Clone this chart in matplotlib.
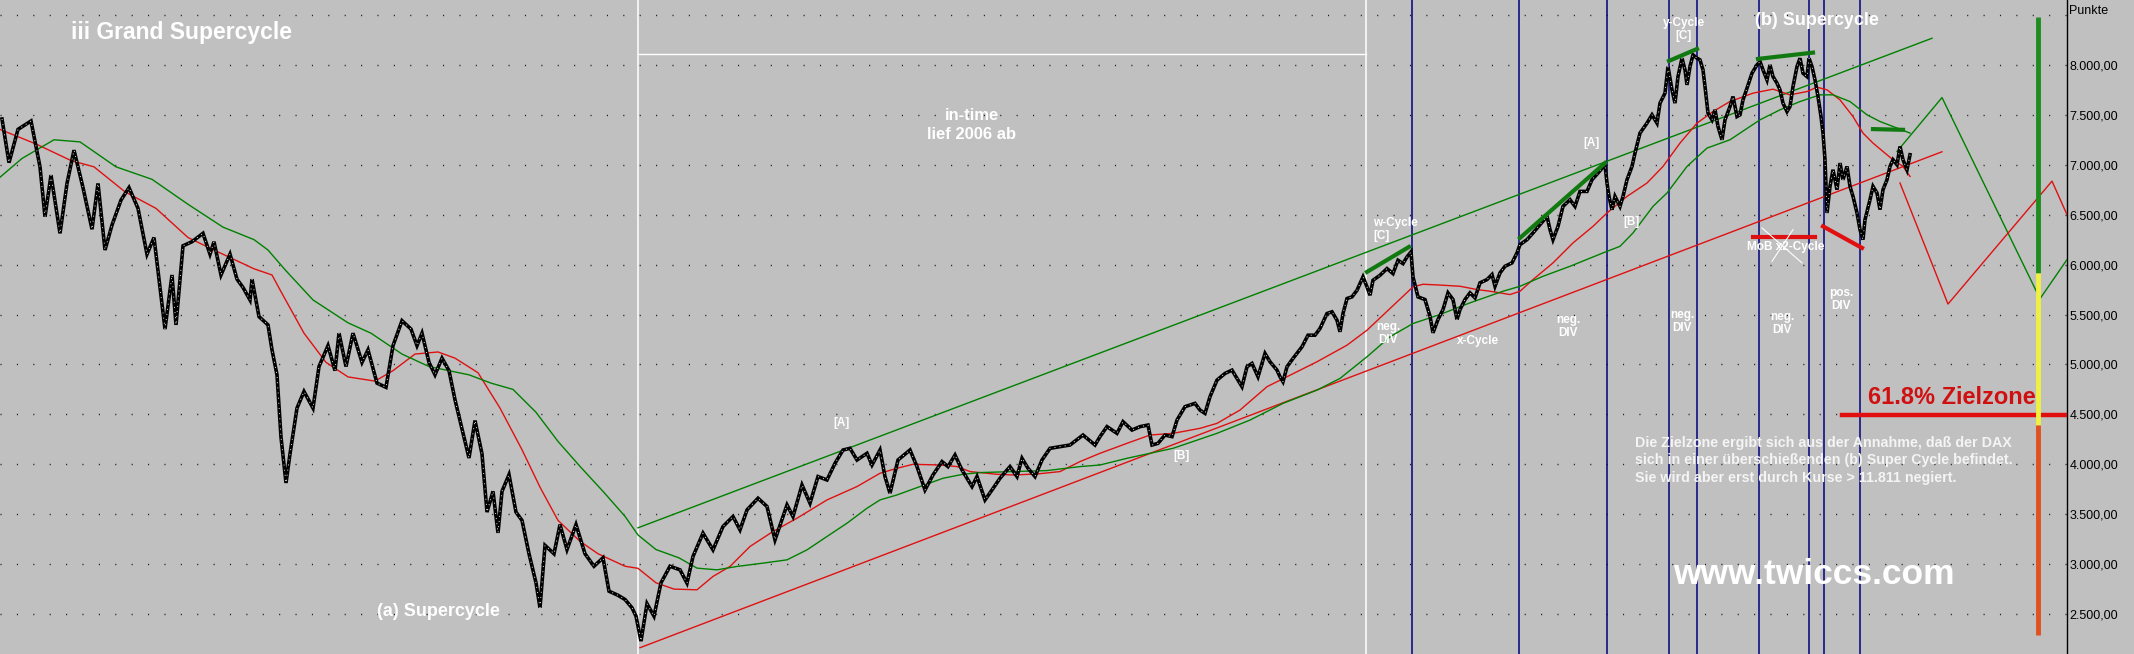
import matplotlib
matplotlib.use("Agg")
import matplotlib.pyplot as plt
import numpy as np

plt.rcParams["font.family"] = ["Liberation Sans", "DejaVu Sans"]

# ==========================================================
#               DATEN (abgelesen aus dem Chart)
# ==========================================================
# x = Bar-Position (Zeitachse ohne Beschriftung), y = Punkte
price_pts = [
    (2, 7458), (9, 7021), (18, 7354), (31, 7438), (40, 6979), (45, 6479), (51, 6896), (60, 6313),
    (67, 6813), (74, 7146), (83, 6771), (92, 6354), (98, 6813), (105, 6146), (112, 6396), (121, 6646),
    (129, 6771), (138, 6563), (147, 6104), (154, 6271), (158, 5938), (165, 5354), (172, 5896), (176, 5396),
    (183, 6188), (192, 6229), (203, 6313), (210, 6104), (214, 6229), (221, 5896), (230, 6104), (237, 5854),
    (243, 5771), (250, 5646), (252, 5854), (259, 5479), (268, 5396), (272, 5146), (277, 4896), (281, 4271),
    (286, 3813), (290, 4104), (297, 4563), (304, 4729), (313, 4563), (319, 4979), (328, 5188), (335, 4938),
    (339, 5313), (346, 4979), (353, 5313), (362, 5021), (368, 5146), (377, 4813), (386, 4771), (393, 5188),
    (402, 5438), (411, 5354), (417, 5188), (422, 5313), (429, 5021), (435, 4896), (442, 5063), (449, 4938),
    (455, 4646), (462, 4354), (469, 4063), (475, 4438), (482, 4104), (487, 3521), (493, 3729), (498, 3313),
    (502, 3729), (509, 3896), (516, 3521), (522, 3438), (529, 3104), (536, 2813), (540, 2563), (545, 3188),
    (554, 3104), (560, 3396), (567, 3146), (576, 3396), (585, 3104), (594, 2979), (603, 3063), (609, 2729),
    (618, 2688), (625, 2646), (632, 2563), (636, 2479), (641, 2229), (647, 2604), (654, 2479), (661, 2813),
    (670, 2979),
    (680, 2943), (687, 2810), (693, 3077), (703, 3310), (713, 3143), (723, 3377), (733, 3477), (740, 3343),
    (747, 3543), (758, 3660), (767, 3577), (775, 3243), (787, 3593), (793, 3477), (802, 3793), (810, 3610),
    (818, 3877), (827, 3843), (835, 4010), (843, 4143), (850, 4160), (857, 4043), (867, 4110), (872, 3993),
    (880, 4143), (885, 3877), (890, 3710), (898, 4043), (910, 4143), (917, 3977), (925, 3743), (933, 3893),
    (942, 4027), (948, 3977), (955, 4093), (962, 3943), (972, 3777), (977, 3877), (985, 3643), (992, 3743),
    (1000, 3860), (1010, 3977), (1017, 3877), (1022, 4060), (1028, 3960), (1035, 3877), (1042, 4043),
    (1050, 4160), (1060, 4177), (1070, 4193), (1083, 4293), (1095, 4193),
    (1100, 4277), (1107, 4377), (1117, 4310), (1123, 4427), (1132, 4343), (1140, 4377), (1148, 4393),
    (1152, 4193), (1158, 4210), (1165, 4293), (1172, 4277), (1177, 4443), (1185, 4577), (1195, 4610),
    (1200, 4543), (1205, 4510), (1210, 4677), (1217, 4843), (1225, 4910), (1232, 4943), (1237, 4860),
    (1242, 4777), (1247, 4977), (1252, 5010), (1258, 4877), (1265, 5110), (1270, 5027), (1277, 4943),
    (1280, 4877), (1283, 4827), (1287, 4977), (1293, 5060), (1302, 5177), (1308, 5293), (1315, 5293),
    (1320, 5360), (1327, 5510), (1332, 5527), (1337, 5443), (1340, 5327), (1343, 5510), (1347, 5660),
    (1352, 5677), (1357, 5743), (1363, 5877), (1367, 5777), (1370, 5693), (1373, 5843), (1380, 5893),
    (1387, 5960), (1393, 5910), (1398, 6043), (1403, 6010), (1407, 6077), (1411, 6127), (1413, 5877),
    (1418, 5677),
    (1425, 5650), (1430, 5483), (1433, 5317), (1438, 5450), (1443, 5550), (1448, 5717), (1453, 5650),
    (1457, 5450), (1460, 5550), (1465, 5650), (1470, 5717), (1475, 5667), (1480, 5817), (1487, 5850),
    (1492, 5900), (1495, 5783), (1500, 5917), (1505, 5983), (1512, 6017), (1517, 6117), (1520, 6200),
    (1527, 6250), (1533, 6317), (1540, 6400), (1547, 6483), (1550, 6350), (1553, 6250), (1558, 6383),
    (1563, 6583), (1570, 6650), (1575, 6583), (1580, 6733), (1587, 6733), (1592, 6850), (1598, 6917),
    (1605, 7000), (1607, 6817), (1609, 6683), (1612, 6550), (1615, 6683), (1620, 6583), (1623, 6683),
    (1627, 6850), (1632, 6983), (1635, 7117), (1640, 7317), (1647, 7417), (1652, 7500), (1657, 7417),
    (1660, 7617), (1665, 7717), (1668, 7983), (1672, 7750), (1675, 7617), (1678, 7883), (1682, 8067),
    (1685, 7950), (1687, 7800), (1690, 7983), (1693, 8100), (1697, 8067), (1700, 8050), (1703, 7950),
    (1705, 7783), (1708, 7517), (1712, 7450), (1715, 7550), (1718, 7383), (1722, 7250), (1725, 7450),
    (1730, 7583), (1733, 7683), (1737, 7483),
    (1740, 7500), (1743, 7650), (1747, 7767), (1752, 7917), (1757, 8000), (1760, 8033), (1763, 7950),
    (1767, 7850), (1770, 8000), (1773, 7883), (1777, 7817), (1780, 7750), (1783, 7617), (1787, 7533),
    (1790, 7583), (1793, 7783), (1797, 7983), (1800, 8067), (1803, 7917), (1807, 7883), (1809, 8067),
    (1812, 7983), (1815, 7850), (1818, 7683), (1821, 7483), (1823, 7317), (1825, 7050), (1826, 6783),
    (1827, 6517), (1830, 6783), (1833, 6950), (1837, 6750), (1840, 7017), (1843, 6850), (1847, 6983),
    (1850, 6783), (1853, 6683), (1857, 6517), (1860, 6350), (1863, 6250), (1865, 6450), (1870, 6650),
    (1873, 6783), (1877, 6717), (1880, 6550), (1883, 6750), (1887, 6850), (1890, 6983), (1893, 7050),
    (1897, 7000), (1900, 7183), (1903, 7050), (1907, 6950), (1910, 7100),
]

ma_red = [
    (0, 7354), (36, 7208), (71, 7042), (94, 6979), (125, 6729), (156, 6563), (188, 6271), (214, 6146),
    (254, 5958), (272, 5896), (281, 5729), (304, 5313), (326, 5021), (348, 4875), (375, 4833), (393, 4938),
    (415, 5104), (438, 5125), (455, 5063), (478, 4917), (500, 4563), (522, 4146), (540, 3771), (558, 3438),
    (580, 3229), (598, 3104), (625, 2979), (638, 2958), (656, 2813), (674, 2750), (697, 2743), (713, 2877),
    (730, 2977), (750, 3177), (773, 3327), (797, 3460), (827, 3643), (857, 3777), (880, 3910), (897, 3960),
    (913, 4000), (940, 3993), (957, 3977), (970, 3927), (997, 3900), (1013, 3893), (1037, 3903),
    (1060, 3927), (1080, 4027), (1100, 4110), (1127, 4210), (1150, 4293), (1173, 4310), (1200, 4360),
    (1217, 4410), (1240, 4543), (1267, 4777), (1287, 4877), (1317, 5027), (1347, 5193), (1367, 5343),
    (1390, 5560), (1413, 5777), (1423, 5803), (1440, 5795), (1460, 5783), (1477, 5750), (1490, 5733),
    (1510, 5700), (1520, 5733), (1533, 5850), (1553, 6017), (1573, 6217), (1593, 6383), (1607, 6517),
    (1627, 6683), (1647, 6817), (1663, 6983), (1680, 7217), (1697, 7417), (1713, 7533), (1730, 7633),
    (1753, 7717), (1773, 7757), (1790, 7700), (1807, 7733), (1817, 7777), (1827, 7750), (1840, 7650),
    (1853, 7483), (1863, 7317), (1873, 7217), (1883, 7133), (1893, 7050), (1903, 6983), (1910, 6883),
]

ma_green = [
    (0, 6875), (22, 7063), (54, 7250), (80, 7229), (116, 6979), (152, 6854), (188, 6604), (223, 6375),
    (254, 6250), (268, 6146), (286, 5938), (313, 5646), (348, 5417), (371, 5313), (402, 5104), (429, 4979),
    (469, 4896), (491, 4813), (513, 4750), (536, 4521), (558, 4229), (580, 3979), (603, 3729), (625, 3479),
    (638, 3292), (656, 3146), (679, 3063), (697, 2960), (717, 2943), (737, 2977), (763, 3010), (787, 3043),
    (807, 3143), (827, 3277), (847, 3410), (867, 3560), (880, 3643), (897, 3693), (920, 3777), (943, 3860),
    (963, 3900), (980, 3917), (1013, 3927), (1047, 3937), (1080, 3977), (1100, 3993), (1127, 4060),
    (1150, 4110), (1173, 4160), (1217, 4310), (1250, 4443), (1283, 4610), (1317, 4743), (1340, 4860),
    (1367, 5077), (1390, 5277), (1413, 5410), (1440, 5500), (1470, 5617), (1503, 5733), (1520, 5783),
    (1543, 5883), (1570, 5983), (1603, 6117), (1620, 6183), (1633, 6317), (1653, 6583), (1667, 6717),
    (1687, 6983), (1707, 7167), (1730, 7250), (1760, 7450), (1780, 7550), (1800, 7633), (1820, 7700),
    (1833, 7700), (1850, 7633), (1867, 7500), (1880, 7433), (1893, 7383), (1910, 7317),
]

# Trendkanal
channel_green = [(638, 3364), (1932, 8267)]
channel_red = [(640, 2163), (1942, 7130)]

# Projektionen (Zickzack)
proj_green = [(1897, 7133), (1942, 7673), (2040, 5658), (2067, 6050)]
proj_red = [(1900, 6817), (1948, 5605), (2052, 6836), (2067, 6500)]

# Divergenz-Linien
div_green = [
    [(1367, 5927), (1409, 6177)],
    [(1520, 6267), (1605, 7017)],
    [(1669, 8040), (1697, 8160)],
    [(1758, 8060), (1813, 8123)],
    [(1873, 7357), (1903, 7350)],
]
div_red = [
    [(1753, 6273), (1815, 6273)],
    [(1823, 6383), (1862, 6167)],
]

cycle_marks = [1412, 1519, 1607, 1669, 1697, 1759, 1809, 1824, 1860]
in_time_marks = [638, 1366]
in_time_level = 8110

zielzone = 4490
zielzone_start = 1842
zone_bar_x = 2038
zone_green = (5916, 8481)
zone_yellow = (4393, 5916)
zone_red = (2289, 4393)

y_ticks = [2500, 3000, 3500, 4000, 4500, 5000, 5500, 6000, 6500, 7000, 7500, 8000]
grid_levels = y_ticks + [8500]


def fmt_punkte(v):
    s = f"{v:,.2f}"
    return s.replace(",", "X").replace(".", ",").replace("X", ".")


# ==========================================================
#                     FIGUR
# ==========================================================
BG = "#c0c0c0"
fig = plt.figure(figsize=(21.34, 6.54), dpi=100, facecolor=BG)
ax = fig.add_axes([0, 0, 2067 / 2134, 1], facecolor=BG)
ax.set_xlim(0, 2067)
ax.set_ylim(2100, 8650)

for lvl in grid_levels:
    ax.axhline(lvl, color="#202020", lw=1.0, dashes=(0.8, 11), zorder=1)

# vertikale Zyklus-Linien
for x in cycle_marks:
    ax.axvline(x, color="#00007a", lw=1.1, zorder=2)
for x in in_time_marks:
    ax.axvline(x, color="white", lw=1.1, zorder=2)
ax.plot(in_time_marks, [in_time_level, in_time_level], color="white", lw=1.0, zorder=2)

# Kanal + Projektionen
for pts, col in [(channel_green, "#008000"), (channel_red, "#e01010"),
                 (proj_green, "#008000"), (proj_red, "#e01010")]:
    xs, ys = zip(*pts)
    ax.plot(xs, ys, color=col, lw=1.0, zorder=3)

# gleitende Durchschnitte
xs, ys = zip(*ma_red)
ax.plot(xs, ys, color="#e01010", lw=1.0, zorder=4)
xs, ys = zip(*ma_green)
ax.plot(xs, ys, color="#008000", lw=1.0, zorder=4)

# Kurs (Balken schwarz, vereinzelt weisse Kerzenkoerper)
px, py = zip(*price_pts)
ax.plot(px, py, color="black", lw=2.6, solid_joinstyle="miter", zorder=5)
ax.plot(px, py, color="white", lw=0.6, dashes=(1.2, 5), zorder=6)

# Divergenzen
for seg in div_green:
    xs, ys = zip(*seg)
    ax.plot(xs, ys, color="#107a10", lw=3.0, zorder=7)
for seg in div_red:
    xs, ys = zip(*seg)
    ax.plot(xs, ys, color="#e01010", lw=3.0, zorder=7)

# Zielzone
ax.plot([zielzone_start, 2067], [zielzone, zielzone], color="#e01010", lw=3.2, zorder=7)
ax.plot([zone_bar_x, zone_bar_x], zone_green, color="#1e8c1e", lw=3.5, zorder=8, solid_capstyle="butt")
ax.plot([zone_bar_x, zone_bar_x], zone_yellow, color="#f0f040", lw=3.5, zorder=8, solid_capstyle="butt")
ax.plot([zone_bar_x, zone_bar_x], zone_red, color="#e05020", lw=3.5, zorder=8, solid_capstyle="butt")

# MoB x2-Cycle durchgestrichen
ax.plot([1762, 1802], [6367, 6017], color="white", lw=0.8, zorder=8)
ax.plot([1772, 1793], [6033, 6350], color="white", lw=0.8, zorder=8)

# ==========================================================
#                     TEXTE
# ==========================================================
W = "white"
tkw = dict(color=W, fontweight="bold", zorder=9)
ax.text(71, 8320, "iii Grand Supercycle", fontsize=16.5, ha="left", va="center", **tkw)
ax.text(377, 2526, "(a) Supercycle", fontsize=13, ha="left", va="center", **tkw)
ax.text(1755, 8440, "(b) Supercycle", fontsize=13, ha="left", va="center", **tkw)
ax.text(972, 7395, "in-time\nlief 2006 ab", fontsize=12, ha="center", va="center",
        linespacing=1.35, **tkw)

small = [
    (842, 4417, "[A]", "center"),
    (1181, 4087, "[B]", "center"),
    (1373, 6350, "w-Cycle\n[C]", "left"),
    (1388, 5313, "neg.\nDIV", "center"),
    (1478, 5237, "x-Cycle", "center"),
    (1592, 7219, "[A]", "center"),
    (1632, 6428, "[B]", "center"),
    (1568, 5383, "neg.\nDIV", "center"),
    (1684, 8355, "y-Cycle\n[C]", "center"),
    (1682, 5428, "neg.\nDIV", "center"),
    (1747, 6178, "MoB x2-Cycle", "left"),
    (1841, 5648, "pos.\nDIV", "center"),
    (1782, 5413, "neg.\nDIV", "center"),
]
for x, y, s, ha in small:
    ax.text(x, y, s, fontsize=8.5, ha=ha, va="center", linespacing=1.1, **tkw)

ax.text(1868, 4667, "61.8% Zielzone", fontsize=17, color="#d01010", fontweight="bold",
        ha="left", va="center", zorder=9)
ax.text(1635, 4040,
        "Die Zielzone ergibt sich aus der Annahme, daß der DAX\n"
        "sich in einer überschießenden (b) Super Cycle befindet.\n"
        "Sie wird aber erst durch Kurse > 11.811 negiert.",
        fontsize=10.3, color="#f4f4f4", fontweight="bold", ha="left", va="center",
        linespacing=1.3, zorder=9)
ax.text(1673, 2896, "www.twiccs.com", fontsize=25.5, ha="left", va="center", **tkw)

# ==========================================================
#                     ACHSE RECHTS
# ==========================================================
for side in ["top", "left", "bottom"]:
    ax.spines[side].set_visible(False)
ax.spines["right"].set_color("black")
ax.spines["right"].set_linewidth(1.0)
ax.set_xticks([])
ax.yaxis.tick_right()
ax.set_yticks(y_ticks)
ax.set_yticklabels([fmt_punkte(v) for v in y_ticks])
ax.tick_params(axis="y", length=0, pad=2, labelsize=9, labelcolor="black")
fig.text(2069 / 2134, 1 - 11 / 654, "Punkte", fontsize=9, ha="left", va="center")

fig.savefig("out.png", dpi=100, facecolor=BG)
